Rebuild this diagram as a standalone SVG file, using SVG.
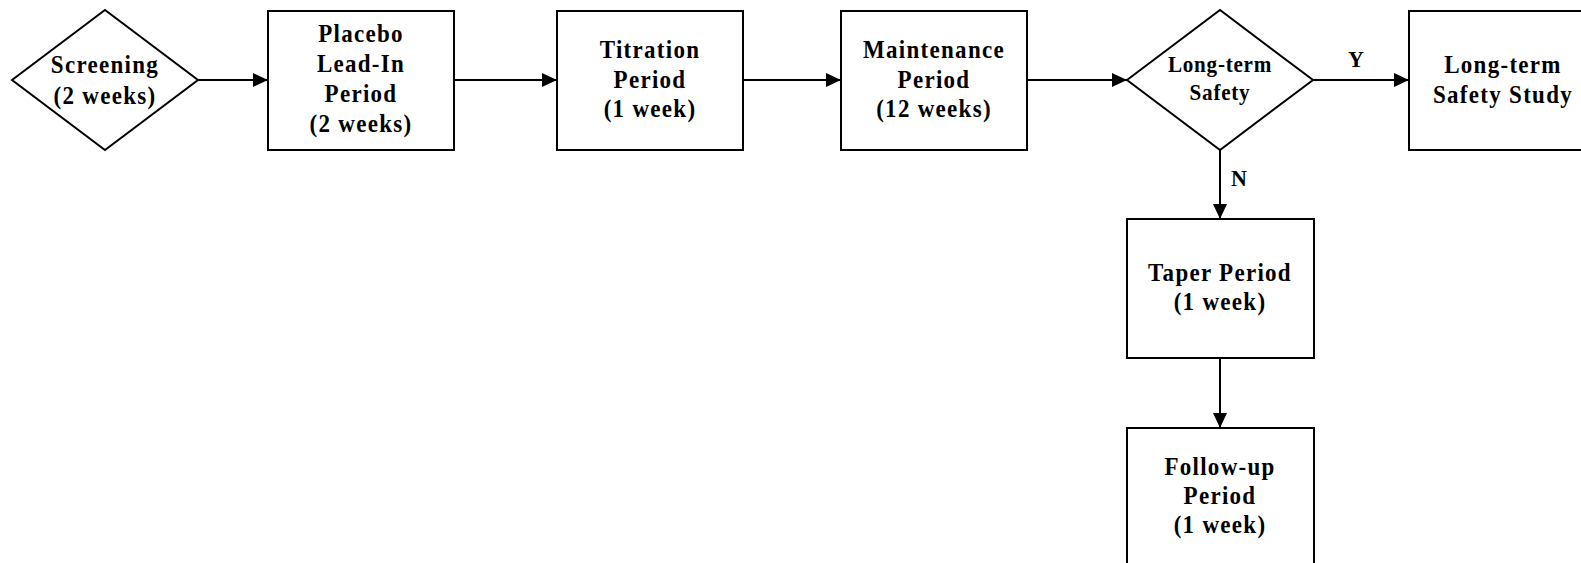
<svg xmlns="http://www.w3.org/2000/svg" width="1581" height="563" viewBox="0 0 1581 563">
  <defs>
    <marker id="arr" viewBox="0 0 15 14" refX="15" refY="7" markerWidth="15" markerHeight="14" markerUnits="userSpaceOnUse" orient="auto">
      <path d="M0,0 L15,7 L0,14 Z" fill="#000"/>
    </marker>
  </defs>
  <style>
    .shape { fill: #fff; stroke: #000; stroke-width: 2; }
    .t { font-family: "Liberation Serif", "Times New Roman", serif; font-weight: bold; font-size: 25px; letter-spacing: 1.4px; text-anchor: middle; fill: #000; }
    .ts { font-family: "Liberation Serif", "Times New Roman", serif; font-weight: bold; font-size: 23px; letter-spacing: 0.8px; text-anchor: middle; fill: #000; }
    .lbl { font-family: "Liberation Serif", "Times New Roman", serif; font-weight: bold; font-size: 24px; text-anchor: middle; fill: #000; }
    .c { fill: none; stroke: #000; stroke-width: 2; marker-end: url(#arr); }
  </style>
  <rect width="1581" height="563" fill="#fff"/>

  <g id="connectors">
    <line class="c" x1="198" y1="80" x2="268" y2="80"/>
    <line class="c" x1="454" y1="80" x2="557" y2="80"/>
    <line class="c" x1="743" y1="80" x2="841" y2="80"/>
    <line class="c" x1="1027" y1="80" x2="1127" y2="80"/>
    <line class="c" x1="1313" y1="80" x2="1409" y2="80"/>
    <line class="c" x1="1220" y1="150" x2="1220" y2="219"/>
    <line class="c" x1="1220" y1="358" x2="1220" y2="428"/>
    <text class="lbl" transform="translate(1356 67) scale(0.92 1)">Y</text>
    <text class="lbl" transform="translate(1239 186) scale(0.92 1)">N</text>
  </g>

  <g id="screening">
    <polygon class="shape" points="12,80 105,10 198,80 105,150"/>
    <text class="t" transform="translate(105 73) scale(0.92 1)">Screening</text>
    <text class="t" transform="translate(105 104) scale(0.92 1)">(2 weeks)</text>
  </g>

  <g id="placebo">
    <rect class="shape" x="268" y="11" width="186" height="139"/>
    <text class="t" transform="translate(361 42) scale(0.92 1)">Placebo</text>
    <text class="t" transform="translate(361 72) scale(0.92 1)">Lead-In</text>
    <text class="t" transform="translate(361 102) scale(0.92 1)">Period</text>
    <text class="t" transform="translate(361 132) scale(0.92 1)">(2 weeks)</text>
  </g>

  <g id="titration">
    <rect class="shape" x="557" y="11" width="186" height="139"/>
    <text class="t" transform="translate(650 58) scale(0.92 1)">Titration</text>
    <text class="t" transform="translate(650 88) scale(0.92 1)">Period</text>
    <text class="t" transform="translate(650 117) scale(0.92 1)">(1 week)</text>
  </g>

  <g id="maintenance">
    <rect class="shape" x="841" y="11" width="186" height="139"/>
    <text class="t" transform="translate(934 58) scale(0.92 1)">Maintenance</text>
    <text class="t" transform="translate(934 88) scale(0.92 1)">Period</text>
    <text class="t" transform="translate(934 117) scale(0.92 1)">(12 weeks)</text>
  </g>

  <g id="longterm-decision">
    <polygon class="shape" points="1127,80 1220,10 1313,80 1220,150"/>
    <text class="ts" transform="translate(1220 72) scale(0.92 1)">Long-term</text>
    <text class="ts" transform="translate(1220 100) scale(0.92 1)">Safety</text>
  </g>

  <g id="longterm-study">
    <rect class="shape" x="1409" y="11" width="188" height="139"/>
    <text class="t" transform="translate(1503 73) scale(0.92 1)">Long-term</text>
    <text class="t" transform="translate(1503 103) scale(0.92 1)">Safety Study</text>
  </g>

  <g id="taper">
    <rect class="shape" x="1127" y="219" width="187" height="139"/>
    <text class="t" transform="translate(1220 281) scale(0.92 1)">Taper Period</text>
    <text class="t" transform="translate(1220 310) scale(0.92 1)">(1 week)</text>
  </g>

  <g id="followup">
    <rect class="shape" x="1127" y="428" width="187" height="140"/>
    <text class="t" transform="translate(1220 475) scale(0.92 1)">Follow-up</text>
    <text class="t" transform="translate(1220 504) scale(0.92 1)">Period</text>
    <text class="t" transform="translate(1220 533) scale(0.92 1)">(1 week)</text>
  </g>
</svg>
